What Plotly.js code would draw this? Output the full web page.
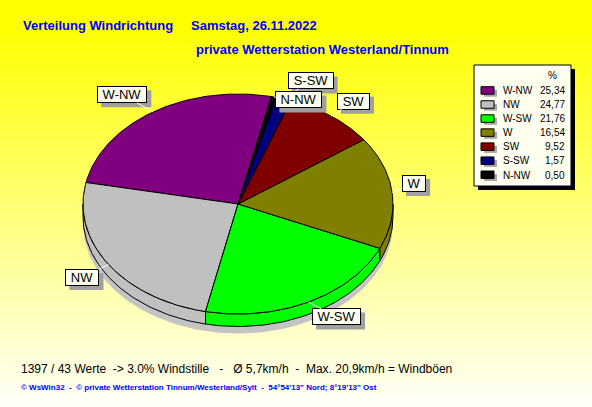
<!DOCTYPE html>
<html><head><meta charset="utf-8">
<script src="https://cdn.plot.ly/plotly-3.0.1.min.js"></script>
<style>
html,body{margin:0;padding:0;width:592px;height:407px;overflow:hidden;
background:linear-gradient(to bottom,#ffff00 0%,#ffff00 6%,#fffffa 100%);}
#chart{width:592px;height:407px;}
</style></head><body><div id="chart"></div>
<script>
// ---- data ----
const labels = ['W-NW','NW','W-SW','W','SW','S-SW','N-NW'];
const values = [25.34,24.77,21.76,16.54,9.52,1.57,0.50];
const colors = ['#800080','#c0c0c0','#00ff00','#808000','#800000','#000080','#000000'];
const titleLeft = 'Verteilung Windrichtung';
const titleDate = 'Samstag, 26.11.2022';
const subtitle = 'private Wetterstation Westerland/Tinnum';
const statsLine = '1397 / 43 Werte\u00a0\u00a0-> 3.0% Windstille\u00a0\u00a0\u00a0-\u00a0\u00a0\u00a0Ø 5,7km/h\u00a0\u00a0-\u00a0\u00a0Max. 20,9km/h = Windböen';
const footerLine = '© WsWin32\u00a0\u00a0-\u00a0\u00a0© private Wetterstation Tinnum/Westerland/Sylt\u00a0\u00a0-\u00a0\u00a054°54\'13" Nord; 8°19\'13" Ost';

// ---- geometry / style ----
const CX=238, CY=204, RX=155, RY=110, DEPTH=12.5, START=77.5;
const FONT='Liberation Sans, Arial, sans-serif';
const labelOffsets = {'W-NW':[-31,-17],'NW':[-26,13],'W-SW':[28,15],'W':[22,-9],'SW':[22,-15],'S-SW':[27,-18],'N-NW':[25,3]};
const LBL_H=17;

const total = values.reduce((a,b)=>a+b,0);
const rad = d=>d*Math.PI/180;
function pt(t,dy){return [CX+RX*Math.cos(rad(t)), CY-RY*Math.sin(rad(t))+(dy||0)];}
function arc(a0,a1,dy){const n=Math.max(2,Math.ceil(Math.abs(a1-a0)));const xs=[],ys=[];
  for(let i=0;i<=n;i++){const p=pt(a0+(a1-a0)*i/n,dy);xs.push(p[0]);ys.push(p[1]);}return [xs,ys];}

let acc=START;
const slices=values.map(v=>{const a0=acc,a1=acc+v/total*360;acc=a1;return {a0,a1,mid:(a0+a1)/2};});

const traces=[];
// shadow
{const s=arc(0,360,DEPTH+7);traces.push({x:s[0],y:s[1],mode:'lines',fill:'toself',fillcolor:'#c4c4c4',line:{width:0},hoverinfo:'skip'});}
// rim
slices.forEach((s,i)=>{
  [[180,360],[540,720]].forEach(w=>{
    const b0=Math.max(s.a0,w[0]), b1=Math.min(s.a1,w[1]);
    if(b1>b0){const top=arc(b0,b1,0), bot=arc(b1,b0,DEPTH);
      const xs=top[0].concat(bot[0]); const ys=top[1].concat(bot[1]); xs.push(xs[0]); ys.push(ys[0]);
      traces.push({x:xs,y:ys,mode:'lines',fill:'toself',fillcolor:colors[i],line:{color:'#000',width:1},hoverinfo:'skip'});}
  });
});
// top faces
slices.forEach((s,i)=>{
  const a=arc(s.a0,s.a1,0);
  traces.push({x:[CX].concat(a[0],[CX]),y:[CY].concat(a[1],[CY]),mode:'lines',fill:'toself',
    fillcolor:colors[i],line:{color:'#000',width:1},name:labels[i],hoverinfo:'name'});
});

const cv=document.createElement('canvas').getContext('2d');
cv.font='13px "Liberation Sans"';

const annotations=[];
const shapes=[];
function txt(text,x,y,opt){annotations.push(Object.assign({text:text,x:x,y:y,xref:'x',yref:'y',showarrow:false,
  xanchor:'left',yanchor:'middle',font:{family:FONT,size:12,color:'#000'}},opt||{}));}

// titles
const TF={family:FONT,size:13,color:'#0000ff',weight:'bold'};
txt(titleLeft,21,25,{font:TF});
txt(titleDate,189,25,{font:TF});
txt(subtitle,194,49,{font:TF});
txt(statsLine,19,369,{font:{family:FONT,size:12,color:'#000'}});
txt(footerLine,19,387,{font:{family:FONT,size:8,color:'#0000ff',weight:'bold'}});

// slice labels (shadow rect + boxed label with leader line)
slices.forEach((s,i)=>{
  const p=pt(s.mid,0); const off=labelOffsets[labels[i]];
  const w=Math.round(cv.measureText(labels[i]).width)+12;
  const bx=p[0]+off[0], by=p[1]+off[1];
  shapes.push({type:'rect',xref:'x',yref:'y',x0:bx-w/2+4,x1:bx+w/2+4,y0:by-LBL_H/2+4,y1:by+LBL_H/2+4,
    fillcolor:'#a0a0a0',line:{width:0}});
  annotations.push({text:labels[i],x:p[0],y:p[1],xref:'x',yref:'y',showarrow:true,arrowhead:0,arrowwidth:1,
    ax:off[0],ay:off[1],standoff:0,width:w-2,height:LBL_H-2,borderpad:0,borderwidth:1,
    bgcolor:'#fffff0',bordercolor:'#000',arrowcolor:'#ffffff',
    font:{family:FONT,size:13,color:'#000'}});
});

// legend box
shapes.push({type:'rect',xref:'x',yref:'y',x0:478,x1:575,y0:69,y1:190,fillcolor:'#000',line:{width:0}});
shapes.push({type:'rect',xref:'x',yref:'y',x0:474,x1:571,y0:65,y1:186,fillcolor:'#fffff0',line:{color:'#000',width:1}});
txt('%',552,75,{xanchor:'center',font:{family:FONT,size:10,color:'#000'}});
labels.forEach((l,i)=>{
  const y=90.7+i*14.05;
  shapes.push({type:'rect',xref:'x',yref:'y',x0:484,x1:497,y0:y-1,y1:y+6,fillcolor:'#a8a8a8',line:{width:0}});
  shapes.push({type:'rect',xref:'x',yref:'y',x0:481,x1:494,y0:y-4,y1:y+3.5,fillcolor:colors[i],line:{color:'#000',width:1}});
  txt(l,501,y,{font:{family:FONT,size:10,color:'#000'}});
  txt(values[i].toFixed(2).replace('.',','),567,y,{xanchor:'right',font:{family:FONT,size:10,color:'#000'}});
});

Plotly.newPlot('chart',traces,{
  width:592,height:407,margin:{l:0,r:0,t:0,b:0},showlegend:false,
  paper_bgcolor:'rgba(0,0,0,0)',plot_bgcolor:'rgba(0,0,0,0)',
  xaxis:{range:[0,592],visible:false,fixedrange:true},
  yaxis:{range:[407,0],visible:false,fixedrange:true},
  annotations:annotations,shapes:shapes
},{displayModeBar:false,staticPlot:true});
</script></body></html>
